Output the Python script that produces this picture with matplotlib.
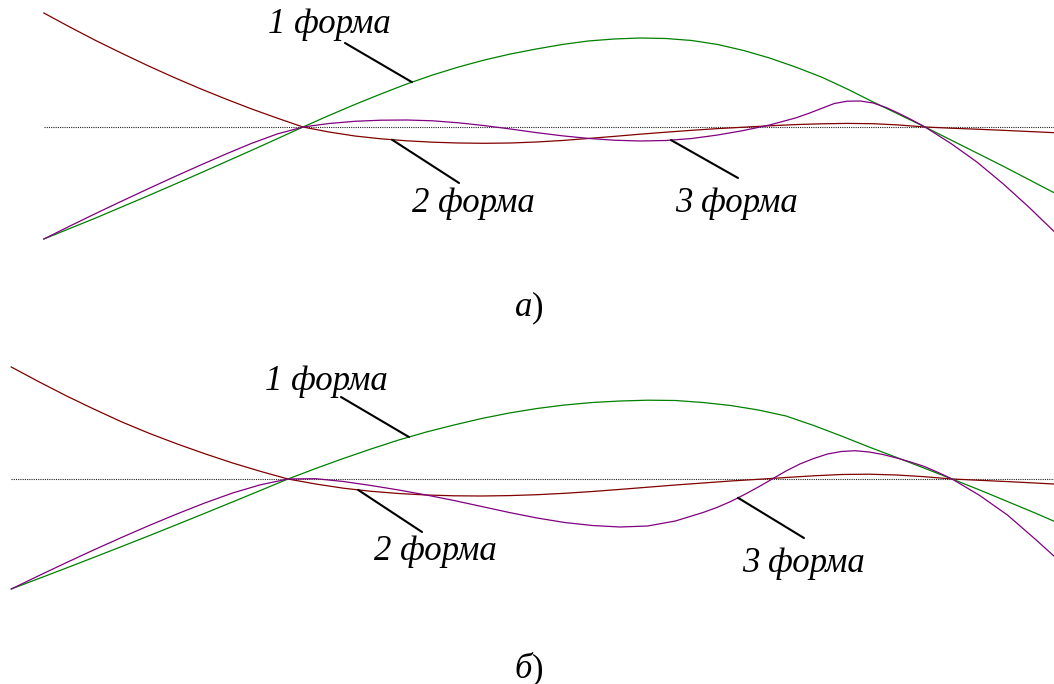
import numpy as np
import matplotlib
matplotlib.use("Agg")
import matplotlib.pyplot as plt

# positions along the beam, supports at 2.5 and 8.5
x_a = [0.0, 0.25, 0.5, 0.75, 1.0, 1.25, 1.5, 1.75, 2.0, 2.25, 2.5, 2.75, 3.0, 3.25,
       3.5, 3.75, 4.0, 4.25, 4.5, 4.75, 5.0, 5.25, 5.5, 5.75, 6.0, 6.25, 6.5, 6.75,
       7.0, 7.25, 7.5, 7.75, 8.0, 8.25, 8.5, 8.75, 9.0, 9.25, 9.5, 9.75, 10.0]
# mode shapes, case a
form1_a = [-1.12, -1.015, -0.91, -0.80, -0.69, -0.578, -0.465, -0.35, -0.235, -0.118, 0.0,
           0.115, 0.225, 0.33, 0.43, 0.52, 0.60, 0.67, 0.73, 0.78, 0.825, 0.86, 0.88, 0.89,
           0.885, 0.865, 0.825, 0.765, 0.69, 0.60, 0.50, 0.38, 0.25, 0.125, 0.0,
           -0.13, -0.26, -0.39, -0.525, -0.66, -0.79]
form2_a = [1.14, 1.0, 0.865, 0.738, 0.615, 0.498, 0.387, 0.282, 0.182, 0.089, 0.0,
           -0.05, -0.09, -0.118, -0.138, -0.152, -0.16, -0.163, -0.16, -0.15, -0.135, -0.115,
           -0.094, -0.072, -0.052, -0.033, -0.016, -0.002, 0.012, 0.024, 0.032, 0.036, 0.033,
           0.02, 0.0, -0.012, -0.022, -0.033, -0.045, -0.057, -0.07]
# third form is sampled more densely near its hump
x3_a = [0.0, 0.25, 0.5, 0.75, 1.0, 1.25, 1.5, 1.75, 2.0, 2.25, 2.5, 2.75, 3.0, 3.25,
        3.5, 3.75, 4.0, 4.25, 4.5, 4.75, 5.0, 5.25, 5.5, 5.75, 6.0, 6.25, 6.5, 6.75,
        7.0, 7.25, 7.375, 7.5, 7.625, 7.75, 7.875, 8.0, 8.125, 8.25, 8.375, 8.5,
        8.75, 9.0, 9.25, 9.5, 9.75, 10.0]
form3_a = [-1.12, -0.991, -0.865, -0.742, -0.621, -0.502, -0.386, -0.273, -0.165, -0.07, 0.0,
           0.035, 0.057, 0.068, 0.07, 0.062, 0.042, 0.014, -0.02, -0.056, -0.088, -0.114,
           -0.132, -0.14, -0.135, -0.115, -0.08, -0.035, 0.02, 0.09, 0.135, 0.185, 0.235,
           0.258, 0.26, 0.24, 0.195, 0.135, 0.07, 0.0,
           -0.165, -0.35, -0.565, -0.80, -1.05, -1.31]

x_b = [0.0, 0.25, 0.5, 0.75, 1.0, 1.25, 1.5, 1.75, 2.0, 2.25, 2.5, 2.75, 3.0, 3.25,
       3.5, 3.75, 4.0, 4.25, 4.5, 4.75, 5.0, 5.25, 5.5, 5.75, 6.0, 6.25, 6.5, 6.75,
       7.0, 7.25, 7.5, 7.75, 8.0, 8.25, 8.5, 8.75, 9.0, 9.25, 9.5]
# mode shapes, case b
form1_b = [-1.10, -0.995, -0.889, -0.782, -0.674, -0.565, -0.454, -0.342, -0.229, -0.115, 0.0,
           0.105, 0.205, 0.30, 0.39, 0.47, 0.54, 0.605, 0.66, 0.705, 0.74, 0.765, 0.78, 0.788,
           0.785, 0.765, 0.735, 0.69, 0.63, 0.535, 0.43, 0.32, 0.215, 0.108, 0.0,
           -0.11, -0.225, -0.34, -0.46]
form2_b = [1.12, 0.972, 0.83, 0.697, 0.57, 0.455, 0.35, 0.252, 0.16, 0.077, 0.0,
           -0.05, -0.092, -0.123, -0.145, -0.16, -0.168, -0.17, -0.166, -0.157, -0.143, -0.125,
           -0.104, -0.082, -0.06, -0.04, -0.02, -0.003, 0.015, 0.032, 0.045, 0.048, 0.04,
           0.023, 0.0, -0.013, -0.026, -0.04, -0.055]
x3_b = [0.0, 0.25, 0.5, 0.75, 1.0, 1.25, 1.5, 1.75, 2.0, 2.25, 2.5, 2.75, 3.0, 3.25,
        3.5, 3.75, 4.0, 4.25, 4.5, 4.75, 5.0, 5.25, 5.5, 5.75, 6.0, 6.25, 6.375, 6.5,
        6.625, 6.75, 6.875, 7.0, 7.125, 7.25, 7.375, 7.5, 7.625, 7.75, 7.875, 8.0,
        8.125, 8.25, 8.375, 8.5, 8.75, 9.0, 9.25, 9.5]
form3_b = [-1.10, -0.966, -0.835, -0.707, -0.583, -0.463, -0.348, -0.239, -0.14, -0.058, 0.0,
           0.003, -0.025, -0.065, -0.11, -0.16, -0.215, -0.275, -0.335, -0.39, -0.435, -0.465,
           -0.48, -0.47, -0.42, -0.335, -0.285, -0.225,
           -0.155, -0.08, 0.0, 0.08, 0.15, 0.205, 0.25, 0.275, 0.283, 0.27, 0.245, 0.21,
           0.17, 0.125, 0.065, 0.0, -0.165, -0.36, -0.60, -0.85]

labels = ["1 форма", "2 форма", "3 форма"]
colors = {"1": "#008000", "2": "#800000", "3": "#800080"}
font = dict(family="Liberation Serif", style="italic", size=25)

W, H = 1054, 684
fig = plt.figure(figsize=(W / 100, H / 100), dpi=100)

def panel(rect, xlim, ylim, curves, notes):
    ax = fig.add_axes(rect)
    ax.set_xlim(*xlim)
    ax.set_ylim(*ylim)
    ax.axis("off")
    ax.hlines(0, 0, 10.5, colors="#222222", linestyles=(0, (1, 1)), lw=0.8)
    for key in "213":
        xs, ys = curves[key]
        ax.plot(xs, ys, color=colors[key], lw=0.9)
    # leader lines and captions
    for key, text, (xc, x0, y0, xt, yt) in zip("123", labels, notes):
        xs, ys = curves[key]
        yc = np.interp(xc, xs, ys)
        ax.annotate("", xy=(xc, yc), xytext=(x0, y0),
                    arrowprops=dict(arrowstyle="-", lw=1.5, color="black",
                                    shrinkA=0, shrinkB=0))
        ax.text(xt, yt, text, ha="center", va="baseline", **font)
    return ax

# (curve x, leader start x, y, caption x, y)
notes_a = [(3.551, 2.905, 0.84, 2.751, 0.94),
           (3.358, 4.005, -0.56, 4.14, -0.85),
           (6.05, 6.696, -0.51, 6.677, -0.85)]
notes_b = [(3.593, 2.979, 0.82, 2.843, 0.89),
           (3.133, 3.711, -0.53, 3.828, -0.81),
           (6.566, 7.162, -0.59, 7.153, -0.93)]

panel([0, 1 - 260 / H, 1, 260 / H], (-0.423, 9.744), (-1.33, 1.27),
      {"1": (x_a, form1_a), "2": (x_a, form2_a), "3": (x3_a, form3_a)}, notes_a)
panel([0, 1 - 620 / H, 1, 265 / H], (-0.102, 9.421), (-1.41, 1.24),
      {"1": (x_b, form1_b), "2": (x_b, form2_b), "3": (x3_b, form3_b)}, notes_b)

# panel captions: italic letter, upright bracket
for letter, py in [("а", 316), ("б", 678)]:
    fig.text(532 / W, 1 - py / H, letter, ha="right", va="baseline", **font)
    fig.text(532 / W, 1 - py / H, ")", ha="left", va="baseline",
             family="Liberation Serif", size=25)

fig.savefig("out.png", dpi=100)
